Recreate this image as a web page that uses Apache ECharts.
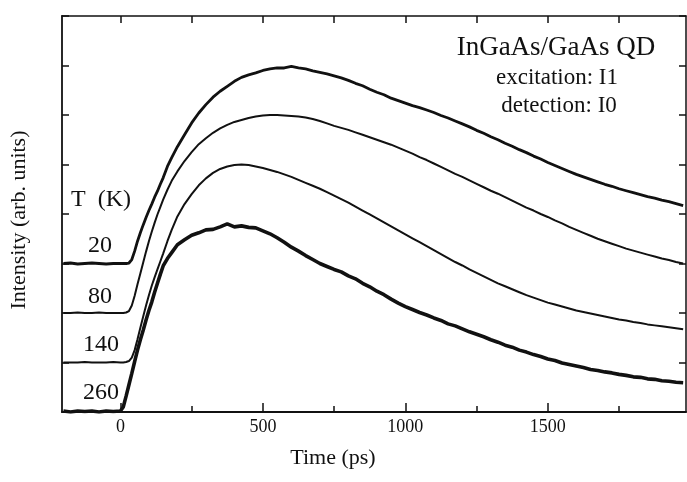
<!DOCTYPE html>
<html>
<head>
<meta charset="utf-8">
<title>InGaAs/GaAs QD</title>
<script src="https://cdn.jsdelivr.net/npm/echarts@6/dist/echarts.min.js"></script>
<style>
  html, body { margin: 0; padding: 0; background: #fff; }
  #graph { width: 687px; height: 482px; }
</style>
</head>
<body>
<div id="graph"></div>
<script>
// time axis (ps)
var times = [-200, -175, -150, -125, -100, -75, -50, -25, 0,
    10, 20, 30, 40, 50, 60, 70, 80, 90, 100, 110, 120, 130, 140, 150, 165, 180, 200,
    225, 250, 275, 300, 325, 350, 375, 400, 425, 450, 475, 500, 525, 550, 575, 600,
    625, 650, 675, 700, 725, 750, 775, 800, 825, 850, 875, 900, 925, 950, 975, 1000,
    1025, 1050, 1075, 1100, 1125, 1150, 1175, 1200, 1225, 1250, 1275, 1300, 1325, 1350,
    1375, 1400, 1425, 1450, 1475, 1500, 1525, 1550, 1575, 1600, 1625, 1650, 1675, 1700,
    1725, 1750, 1775, 1800, 1825, 1850, 1875, 1900, 1925, 1950, 1975];

// 20 K (offset +3)
var t20 = [3.0, 3.01, 2.99, 3.0, 3.01, 3.0, 2.99, 3.0, 3.0,
    3.0, 3.0, 3.01, 3.08, 3.25, 3.45, 3.62, 3.78, 3.93, 4.07, 4.2, 4.34, 4.46, 4.6, 4.73, 4.96, 5.14, 5.36,
    5.6, 5.84, 6.04, 6.21, 6.36, 6.48, 6.58, 6.68, 6.76, 6.81, 6.85, 6.9, 6.93, 6.95, 6.95, 6.98,
    6.95, 6.93, 6.89, 6.86, 6.83, 6.79, 6.75, 6.7, 6.64, 6.59, 6.52, 6.46, 6.41, 6.34, 6.29, 6.24,
    6.19, 6.15, 6.1, 6.05, 5.99, 5.94, 5.88, 5.82, 5.76, 5.69, 5.63, 5.56, 5.5, 5.43,
    5.37, 5.3, 5.24, 5.17, 5.11, 5.04, 4.98, 4.92, 4.86, 4.8, 4.75, 4.7, 4.65, 4.6,
    4.56, 4.51, 4.47, 4.43, 4.39, 4.35, 4.32, 4.28, 4.25, 4.21, 4.17];

// 80 K (offset +2)
var t80 = [2.0, 2.0, 2.01, 2.0, 2.0, 2.01, 2.0, 2.0, 2.0,
    2.0, 2.01, 2.04, 2.15, 2.35, 2.58, 2.8, 3.02, 3.24, 3.45, 3.64, 3.82, 3.99, 4.14, 4.29, 4.49, 4.67, 4.86,
    5.07, 5.25, 5.41, 5.53, 5.64, 5.73, 5.8, 5.86, 5.9, 5.94, 5.97, 5.99, 6.0, 6.0, 5.99, 5.98,
    5.97, 5.95, 5.92, 5.88, 5.83, 5.78, 5.74, 5.7, 5.65, 5.6, 5.55, 5.5, 5.45, 5.4, 5.34, 5.28,
    5.22, 5.15, 5.09, 5.02, 4.95, 4.88, 4.81, 4.75, 4.68, 4.61, 4.54, 4.47, 4.41, 4.34,
    4.27, 4.2, 4.13, 4.07, 4.0, 3.94, 3.87, 3.81, 3.74, 3.68, 3.62, 3.56, 3.5, 3.45,
    3.4, 3.35, 3.3, 3.26, 3.22, 3.18, 3.14, 3.1, 3.07, 3.03, 3.0];

// 140 K (offset +1)
var t140 = [1.0, 1.0, 1.0, 1.01, 1.0, 1.0, 1.0, 1.01, 1.0,
    1.0, 1.01, 1.03, 1.1, 1.25, 1.47, 1.7, 1.93, 2.15, 2.36, 2.55, 2.72, 2.88, 3.04, 3.2, 3.45, 3.68, 3.95,
    4.2, 4.4, 4.58, 4.72, 4.83, 4.91, 4.96, 4.99, 5.0, 4.99, 4.96, 4.93, 4.89, 4.85, 4.8, 4.75,
    4.69, 4.63, 4.57, 4.51, 4.44, 4.37, 4.3, 4.23, 4.15, 4.07, 3.99, 3.91, 3.83, 3.75, 3.67, 3.59,
    3.51, 3.43, 3.35, 3.27, 3.19, 3.11, 3.03, 2.96, 2.88, 2.81, 2.74, 2.67, 2.6, 2.54,
    2.48, 2.42, 2.36, 2.31, 2.26, 2.21, 2.17, 2.13, 2.09, 2.05, 2.02, 1.99, 1.96, 1.93,
    1.9, 1.87, 1.85, 1.82, 1.8, 1.77, 1.75, 1.73, 1.71, 1.69, 1.67];

// 260 K (no offset)
var t260 = [0.02, 0.0, 0.02, 0.01, 0.02, 0.0, 0.02, 0.01, 0.02,
    0.1, 0.32, 0.55, 0.78, 1.02, 1.25, 1.46, 1.65, 1.86, 2.05, 2.22, 2.42, 2.6, 2.78, 2.95, 3.1, 3.22, 3.38,
    3.48, 3.57, 3.62, 3.68, 3.69, 3.74, 3.8, 3.74, 3.76, 3.73, 3.72, 3.66, 3.6, 3.52, 3.43, 3.33,
    3.25, 3.16, 3.08, 3.0, 2.94, 2.88, 2.83, 2.75, 2.69, 2.6, 2.53, 2.44, 2.37, 2.28, 2.2, 2.13,
    2.07, 2.01, 1.96, 1.9, 1.85, 1.78, 1.74, 1.68, 1.62, 1.57, 1.52, 1.46, 1.41, 1.35,
    1.31, 1.25, 1.21, 1.16, 1.12, 1.07, 1.04, 0.99, 0.96, 0.93, 0.9, 0.86, 0.84, 0.81,
    0.79, 0.76, 0.74, 0.71, 0.7, 0.67, 0.66, 0.63, 0.62, 0.6, 0.59];

var majorTicks = [0, 500, 1000, 1500];
var minorTicks = [250, 750, 1250, 1750];
var topTicks = [0, 250, 500, 750, 1000, 1250, 1500, 1750];

var tempLabels = ['20', '80', '140', '260'];

var FONT = '"Liberation Serif", "DejaVu Serif", serif';
var INK = '#111';

function pairs(vals) {
    var out = [];
    for (var i = 0; i < times.length; i++) {
        out.push([times[i], vals[i]]);
    }
    return out;
}

var myChart = echarts.init(document.getElementById('graph'), null, { renderer: 'canvas' });

var xBase = {
    type: 'value',
    min: -205,
    max: 1985,
    splitLine: { show: false }
};

option = {
    animation: false,
    backgroundColor: '#fff',
    grid: { left: 62, right: 1, top: 16, bottom: 70 },
    xAxis: [
        Object.assign({}, xBase, {
            position: 'bottom',
            name: 'Time (ps)',
            nameLocation: 'middle',
            nameGap: 35,
            nameTextStyle: { fontFamily: FONT, fontSize: 22, color: INK, padding: [0, 82, 0, 0] },
            axisLine: { show: true, onZero: false, lineStyle: { color: INK, width: 2 } },
            axisTick: { show: true, inside: true, length: 9, customValues: majorTicks, lineStyle: { color: INK, width: 1.5 } },
            axisLabel: {
                show: true, customValues: majorTicks, margin: 6, fontFamily: FONT, fontSize: 18, color: INK,
                formatter: function (v) { return String(v); }
            }
        }),
        Object.assign({}, xBase, {
            position: 'bottom',
            axisLine: { show: false, onZero: false },
            axisTick: { show: true, inside: true, length: 6, customValues: minorTicks, lineStyle: { color: INK, width: 1.5 } },
            axisLabel: { show: false }
        }),
        Object.assign({}, xBase, {
            position: 'top',
            axisLine: { show: true, onZero: false, lineStyle: { color: INK, width: 1.5 } },
            axisTick: { show: true, inside: true, length: 7, customValues: topTicks, lineStyle: { color: INK, width: 1.5 } },
            axisLabel: { show: false }
        })
    ],
    yAxis: [
        {
            type: 'value',
            position: 'left',
            min: 0,
            max: 8,
            interval: 1,
            name: 'Intensity (arb. units)',
            nameLocation: 'middle',
            nameGap: 32,
            nameTextStyle: { fontFamily: FONT, fontSize: 22, color: INK, padding: [0, 12, 0, 0] },
            axisLine: { show: true, onZero: false, lineStyle: { color: INK, width: 1.8 } },
            axisTick: { show: true, inside: true, length: 7, lineStyle: { color: INK, width: 1.5 } },
            axisLabel: { show: false },
            splitLine: { show: false }
        },
        {
            type: 'value',
            position: 'right',
            min: 0,
            max: 8,
            interval: 1,
            axisLine: { show: true, onZero: false, lineStyle: { color: INK, width: 1.5 } },
            axisTick: { show: true, inside: true, length: 7, lineStyle: { color: INK, width: 1.5 } },
            axisLabel: { show: false },
            splitLine: { show: false }
        }
    ],
    series: [
        { name: '20 K', type: 'line', data: pairs(t20), symbol: 'none', lineStyle: { color: INK, width: 2.8 } },
        { name: '80 K', type: 'line', data: pairs(t80), symbol: 'none', lineStyle: { color: INK, width: 2 } },
        { name: '140 K', type: 'line', data: pairs(t140), symbol: 'none', lineStyle: { color: INK, width: 2 } },
        { name: '260 K', type: 'line', data: pairs(t260), symbol: 'none', lineStyle: { color: INK, width: 3.6 } }
    ],
    graphic: [
        { type: 'text', left: 71, top: 188, style: { text: 'T  (K)', font: '24px ' + FONT, fill: INK } },
        { type: 'text', x: 100, y: 246, style: { text: tempLabels[0], font: '24px ' + FONT, fill: INK, align: 'center', verticalAlign: 'middle' } },
        { type: 'text', x: 100, y: 297, style: { text: tempLabels[1], font: '24px ' + FONT, fill: INK, align: 'center', verticalAlign: 'middle' } },
        { type: 'text', x: 101, y: 345, style: { text: tempLabels[2], font: '24px ' + FONT, fill: INK, align: 'center', verticalAlign: 'middle' } },
        { type: 'text', x: 101, y: 393, style: { text: tempLabels[3], font: '24px ' + FONT, fill: INK, align: 'center', verticalAlign: 'middle' } },
        { type: 'text', x: 556, y: 48, style: { text: 'InGaAs/GaAs QD', font: '27px ' + FONT, fill: INK, align: 'center', verticalAlign: 'middle' } },
        { type: 'text', x: 557, y: 78, style: { text: 'excitation: I1', font: '23px ' + FONT, fill: INK, align: 'center', verticalAlign: 'middle' } },
        { type: 'text', x: 559, y: 106, style: { text: 'detection: I0', font: '23px ' + FONT, fill: INK, align: 'center', verticalAlign: 'middle' } }
    ]
};

myChart.setOption(option);
</script>
</body>
</html>
